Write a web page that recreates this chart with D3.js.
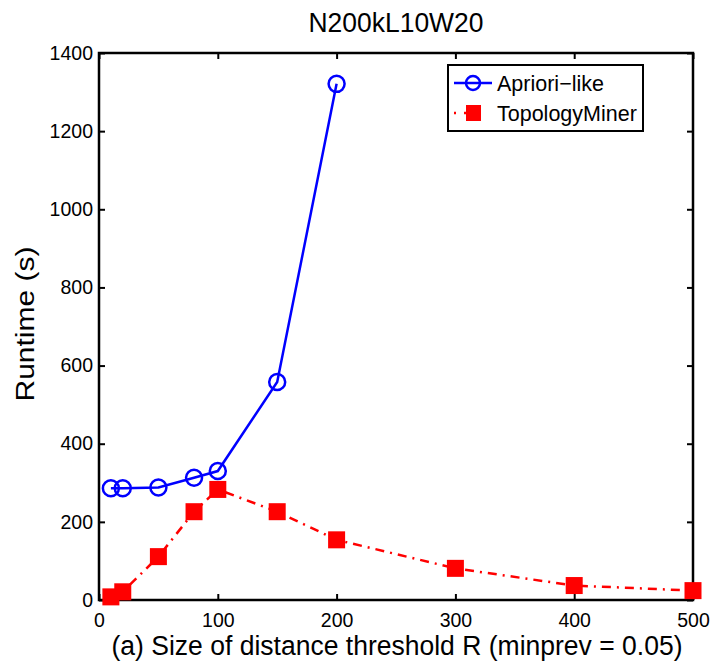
<!DOCTYPE html>
<html>
<head>
<meta charset="utf-8">
<script src="https://cdn.jsdelivr.net/npm/d3@7"></script>
<style>
  body { margin: 0; background: #fff; }
  text { font-family: "Liberation Sans", Arial, Helvetica, sans-serif; }
</style>
</head>
<body>
<script>
// ---------- DATA ----------
var aprioriX = [10, 20, 50, 80, 100, 150, 200];
var aprioriY = [286, 286, 288, 313, 330, 558, 1321];

var topoX = [10, 20, 50, 80, 100, 150, 200, 300, 400, 500];
var topoY = [8, 21, 111, 226, 283, 226, 154, 81, 37, 24];

var xTicks = [0, 100, 200, 300, 400, 500];
var yTicks = [0, 200, 400, 600, 800, 1000, 1200, 1400];

var seriesNames = ["Apriori\u2212like", "TopologyMiner"];

// ---------- DIMENSIONS ----------
var w = 716, h = 669;
var margin = { top: 53, right: 23, bottom: 69, left: 99 };
var innerW = w - margin.left - margin.right;
var innerH = h - margin.top - margin.bottom;

var svg = d3.select("body").append("svg")
  .attr("width", w)
  .attr("height", h);

var g = svg.append("g")
  .attr("transform", "translate(" + margin.left + "," + margin.top + ")");

// ---------- SCALES ----------
var x = d3.scaleLinear().domain([0, 500]).range([0, innerW]);
var y = d3.scaleLinear().domain([0, 1400]).range([innerH, 0]);
var fmt = d3.format("d");

// ---------- AXES (MATLAB style, ticks inward, on all 4 sides) ----------
function styleAxis(sel) {
  sel.select(".domain").remove();
  sel.selectAll(".tick line").attr("stroke", "black").attr("stroke-width", 2);
  sel.selectAll(".tick text")
    .attr("fill", "black")
    .style("font-size", "19.5px")
    .style("font-family", "'Liberation Sans', Arial, sans-serif");
}

g.append("g")
  .attr("transform", "translate(0," + innerH + ")")
  .call(d3.axisBottom(x).tickValues(xTicks).tickFormat(fmt).tickSize(-6).tickPadding(13))
  .call(styleAxis);

g.append("g")
  .call(d3.axisTop(x).tickValues(xTicks).tickSize(-6).tickFormat(""))
  .call(styleAxis);

g.append("g")
  .call(d3.axisLeft(y).tickValues(yTicks).tickFormat(fmt).tickSize(-6).tickPadding(6))
  .call(styleAxis);

g.append("g")
  .attr("transform", "translate(" + innerW + ",0)")
  .call(d3.axisRight(y).tickValues(yTicks).tickSize(-6).tickFormat(""))
  .call(styleAxis);

// box
g.append("rect")
  .attr("x", 0).attr("y", 0)
  .attr("width", innerW).attr("height", innerH)
  .attr("fill", "none")
  .attr("stroke", "black")
  .attr("stroke-width", 2.5);

// ---------- LINES ----------
var line = d3.line()
  .x(d => x(d[0]))
  .y(d => y(d[1]));

var aprioriData = aprioriX.map((v, i) => [v, aprioriY[i]]);
var topoData = topoX.map((v, i) => [v, topoY[i]]);

g.append("path")
  .datum(topoData)
  .attr("d", line)
  .attr("fill", "none")
  .attr("stroke", "red")
  .attr("stroke-width", 2.5)
  .attr("stroke-dasharray", "9,6,2,6");

g.selectAll("rect.sq")
  .data(topoData)
  .enter()
  .append("rect")
  .attr("class", "sq")
  .attr("x", d => x(d[0]) - 8.5)
  .attr("y", d => y(d[1]) - 8.5)
  .attr("width", 17)
  .attr("height", 17)
  .attr("fill", "red");

g.append("path")
  .datum(aprioriData)
  .attr("d", line)
  .attr("fill", "none")
  .attr("stroke", "blue")
  .attr("stroke-width", 2.5);

g.selectAll("circle.ap")
  .data(aprioriData)
  .enter()
  .append("circle")
  .attr("class", "ap")
  .attr("cx", d => x(d[0]))
  .attr("cy", d => y(d[1]))
  .attr("r", 8)
  .attr("fill", "none")
  .attr("stroke", "blue")
  .attr("stroke-width", 2.5);

// ---------- LEGEND ----------
var lg = svg.append("g").attr("transform", "translate(448,65)");

lg.append("rect")
  .attr("width", 195).attr("height", 66)
  .attr("fill", "white")
  .attr("stroke", "black")
  .attr("stroke-width", 2);

// row 1
lg.append("line")
  .attr("x1", 6).attr("x2", 44).attr("y1", 18).attr("y2", 18)
  .attr("stroke", "blue").attr("stroke-width", 2.5);
lg.append("circle")
  .attr("cx", 25).attr("cy", 18).attr("r", 7)
  .attr("fill", "none").attr("stroke", "blue").attr("stroke-width", 2.5);

// row 2
lg.append("line")
  .attr("x1", 6).attr("x2", 44).attr("y1", 48).attr("y2", 48)
  .attr("stroke", "red").attr("stroke-width", 2.5)
  .attr("stroke-dasharray", "2,8,12,20");
lg.append("rect")
  .attr("x", 18).attr("y", 40).attr("width", 15).attr("height", 16)
  .attr("fill", "red");

lg.selectAll("text.lt")
  .data(seriesNames)
  .enter()
  .append("text")
  .attr("class", "lt")
  .attr("x", 49)
  .attr("y", (d, i) => 18 + i * 30)
  .attr("dy", "0.36em")
  .style("font-size", "21.5px")
  .text(d => d);

// ---------- TITLES ----------
svg.append("text")
  .attr("x", 396).attr("y", 32)
  .attr("text-anchor", "middle")
  .style("font-size", "28px")
  .attr("textLength", 175)
  .attr("lengthAdjust", "spacingAndGlyphs")
  .text("N200kL10W20");

svg.append("text")
  .attr("x", 397).attr("y", 655)
  .attr("text-anchor", "middle")
  .style("font-size", "27px")
  .attr("textLength", 571)
  .attr("lengthAdjust", "spacingAndGlyphs")
  .text("(a) Size of distance threshold R (minprev = 0.05)");

svg.append("text")
  .attr("transform", "translate(34,324) rotate(-90)")
  .attr("text-anchor", "middle")
  .style("font-size", "25px")
  .attr("textLength", 155)
  .attr("lengthAdjust", "spacingAndGlyphs")
  .text("Runtime (s)");
</script>
</body>
</html>
